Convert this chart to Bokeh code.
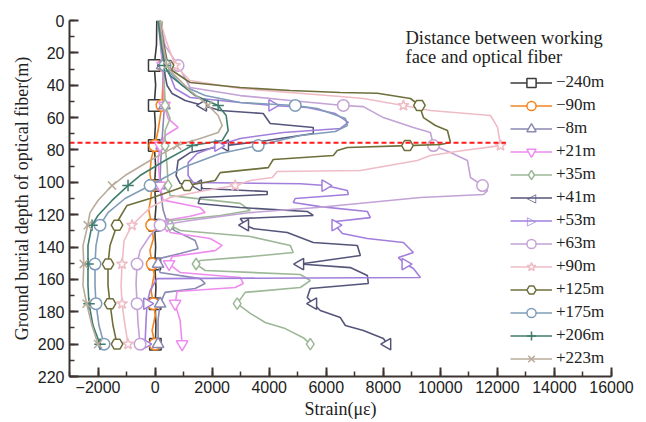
from bokeh.plotting import figure
from bokeh.models import Range1d, SingleIntervalTicker, Legend, LegendItem, Label
from bokeh.embed import file_html
from bokeh.resources import INLINE

# ---------------- data (strain in microstrain, depth in m) ----------------
labels = ["\u2212240m", "\u221290m", "\u22128m", "+21m", "+35m", "+41m", "+53m",
          "+63m", "+90m", "+125m", "+175m", "+206m", "+223m"]

marker_depth = [27.8, 52.5, 77.3, 102, 126.5, 150.5, 175, 200]

depth_m240 = [0, 15, 27.8, 40, 52.5, 65, 77.3, 90, 102, 115, 126.5, 140, 150.5, 165, 175, 188, 200]
strain_m240 = [60, 50, -30, 20, -30, 10, -30, 20, -20, 30, -20, 20, -10, 30, 0, 30, 10]
mk_m240 = [-30, -30, -30, -20, -20, -10, 0, 10]

depth_m90 = [0, 18.5, 27.8, 40, 52.5, 68, 77.3, 86, 95, 102, 110, 117, 126.5, 135, 142, 150.5, 157, 167, 175, 182, 191.6, 200]
strain_m90 = [176, 280, 290, 270, 240, 105, -10, -140, -180, -110, -150, -220, -120, -60, -180, -100, -30, -140, -60, 10, -105, 0]
mk_m90 = [290, 240, -10, -110, -120, -100, -60, 0]

depth_m8 = [0, 24.7, 27.8, 40, 52.5, 65, 77.3, 90, 102, 117, 126.5, 130, 136, 141, 144, 147, 150.5, 155.7, 159.5, 162.5, 165.6, 168, 175, 185, 200]
strain_m8 = [105, 246, 250, 300, 330, 280, 230, 190, 170, 281, 450, 700, 1404, 1509, 878, 176, 105, 176, 1580, 1755, 1404, 351, 176, 105, 105]
mk_m8 = [250, 330, 230, 170, 450, 105, 176, 105]

depth_p21 = [0, 24.7, 27.8, 49.4, 52.5, 60.6, 66.1, 71.1, 77.3, 86.5, 102, 111, 115.6, 118.7, 121, 123.6, 126.5, 131, 134.7, 139, 142.2, 145.9, 150.5, 155.7, 158.8, 162.5, 165, 167.5, 175, 185.4, 200]
strain_p21 = [176, 246, 260, 316, 330, 456, 807, 351, 176, 105, 176, 281, 1580, 1755, 1229, 351, 420, 527, 1931, 2352, 2106, 597, 491, 878, 2984, 3089, 2808, 772, 702, 878, 948]
mk_p21 = [260, 330, 176, 176, 420, 491, 702, 948]

depth_p35 = [0, 24.7, 27.8, 49.4, 52.5, 60.6, 68, 77.3, 89.6, 102, 108.2, 113, 117.4, 120.5, 123.6, 126.5, 129.8, 133.5, 139, 143.4, 145.9, 148.3, 150.5, 154.5, 157, 160.7, 165, 168, 175, 181, 186.6, 190.4, 196, 200]
strain_p35 = [246, 281, 290, 351, 351, 527, 351, 351, 421, 456, 527, 2984, 3335, 2282, 597, 527, 878, 3335, 4739, 4844, 3335, 1580, 1439, 1755, 5090, 5441, 5090, 3159, 2878, 3335, 3861, 4563, 5195, 5441]
mk_p35 = [290, 351, 351, 456, 527, 1439, 2878, 5441]

depth_p41 = [0, 18.5, 27.8, 34, 40.2, 45.1, 49.4, 52.5, 55.6, 57.5, 63.7, 66.1, 69.8, 74.2, 77.3, 81.6, 86.5, 95.8, 100.7, 102, 103.8, 105.7, 107.5, 109.4, 113.1, 115.6, 118, 120.5, 122.4, 126.5, 128.6, 131, 137.2, 139, 145.2, 150.5, 152.7, 157.6, 162.5, 165.6, 171.2, 175, 179.2, 183.6, 188.5, 191.6, 196.5, 200]
strain_p41 = [176, 281, 320, 351, 421, 597, 1053, 1685, 2282, 3791, 4037, 5546, 5546, 3931, 2457, 1229, 807, 737, 878, 1509, 1685, 3931, 3931, 1580, 1509, 2984, 5335, 5546, 2984, 3159, 3440, 4633, 5546, 7090, 7196, 5090, 6845, 7441, 7476, 5441, 5335, 5546, 5792, 6494, 6670, 7301, 8003, 8143]
mk_p41 = [320, 1685, 2457, 1509, 3159, 5090, 5546, 8143]

depth_p53 = [0, 18.5, 27.8, 30.9, 42, 47.6, 50.7, 52.5, 53.8, 57.5, 63, 66.7, 69.2, 72.9, 77.3, 82.2, 87.8, 95.8, 100.1, 100.9, 102, 105.1, 107.5, 110, 112.5, 115, 118, 121.8, 124.2, 126.5, 131.6, 134.7, 137.2, 143.4, 146.5, 150.5, 153.3, 158.8, 159.5, 166.9, 175, 185.4, 200]
strain_p53 = [176, 281, 400, 456, 702, 1229, 2984, 4107, 5335, 6318, 6775, 6494, 4493, 2984, 2211, 1474, 1158, 1158, 1334, 5090, 5967, 6739, 6775, 4914, 4844, 5792, 7441, 7546, 6318, 6318, 6564, 7441, 8705, 9056, 8529, 8775, 9056, 9302, 70, -176, -281, -316, -351]
mk_p53 = [400, 4107, 2211, 5967, 6318, 8775, -281, -351]

depth_p63 = [0, 15.5, 27.8, 41.4, 46.4, 49.4, 52.5, 53.2, 60, 66.1, 69.2, 77.3, 81.6, 86.5, 97, 102, 105.1, 107.5, 109.4, 115.6, 118.7, 123.6, 126.5, 132.9, 142.2, 150.5, 162.5, 175, 187.3, 200]
strain_p63 = [176, 351, 807, 1229, 2984, 4739, 6599, 7301, 8003, 9056, 9653, 9758, 10355, 10951, 11057, 11478, 11653, 11513, 9302, 5686, 3335, 1229, 176, -176, -527, -632, -667, -632, -597, -527]
mk_p63 = [807, 6599, 9758, 11478, 176, -632, -632, -527]

depth_p90 = [0, 12.4, 27.8, 37.1, 42, 47, 48.2, 52.5, 55.6, 58.7, 66.1, 77.3, 80.3, 83.4, 86.5, 92.7, 93.3, 97, 98.9, 102, 105.1, 109.4, 115.6, 126.5, 136, 150.5, 163.8, 175, 188.5, 200]
strain_p90 = [176, 386, 702, 1229, 2984, 6494, 7301, 8705, 9653, 11759, 12005, 12110, 10800, 9653, 9194, 7196, 4282, 4107, 3335, 2808, 1755, 527, -176, -807, -1088, -1158, -1193, -1158, -1053, -948]
mk_p90 = [702, 8705, 12110, 2808, -807, -1158, -1158, -948]

depth_p125 = [0, 12.4, 27.8, 30.9, 38.3, 41.4, 43.3, 44.5, 45, 48.2, 52.5, 60, 64.9, 68, 75.4, 76.6, 77.3, 78.5, 80.3, 83.4, 85.9, 90.9, 94, 98.9, 102, 106.3, 110, 114.3, 123.6, 126.5, 139.1, 150.5, 163.8, 175, 188.5, 200]
strain_p125 = [176, 281, 456, 597, 1229, 2984, 4739, 6494, 7792, 8951, 9267, 9407, 9828, 10249, 10355, 10004, 8845, 6739, 6388, 6248, 4142, 3966, 2282, 2106, 1123, 421, -176, -983, -1299, -1334, -1580, -1650, -1650, -1580, -1474, -1334]
mk_p125 = [456, 9267, 8845, 1123, -1334, -1650, -1580, -1334]

depth_p175 = [0, 18.5, 27.8, 30.9, 40.2, 46.4, 50.7, 52.5, 54.4, 60.6, 64.9, 68.6, 71.1, 77.3, 82.2, 90.9, 102, 110, 118.7, 126.5, 139.1, 150.5, 163.8, 175, 188.5, 200]
strain_p175 = [176, 246, 350, 456, 948, 1755, 2984, 4914, 5686, 6670, 6739, 6318, 5090, 3616, 2282, 983, -176, -1053, -1650, -1931, -2071, -2106, -2106, -2071, -1966, -1790]
mk_p175 = [350, 4914, 3616, -176, -1931, -2106, -2071, -1790]

depth_p206 = [0, 18.5, 27.8, 34, 46.4, 52.5, 58.7, 68, 74.2, 77.3, 86.5, 95.8, 102, 111.2, 120.5, 126.5, 139.1, 150.5, 163.8, 175, 188.5, 200]
strain_p206 = [105, 246, 330, 527, 1404, 2211, 2492, 2562, 2352, 1299, 351, -527, -948, -1509, -2001, -2211, -2352, -2352, -2352, -2317, -2176, -1931]
mk_p206 = [330, 2211, 1299, -948, -2211, -2352, -2317, -1931]

depth_p223 = [0, 15.5, 27.8, 30.9, 43.3, 52.5, 58.7, 64.9, 69.2, 72.9, 77.3, 86.5, 95.8, 102, 111.2, 118.7, 126.5, 139.1, 150.5, 163.8, 175, 188.5, 200]
strain_p223 = [176, 281, 420, 527, 1229, 1860, 2211, 2352, 2211, 1580, 772, -176, -1053, -1509, -2001, -2282, -2360, -2527, -2500, -2527, -2400, -2211, -2000]
mk_p223 = [420, 1860, 772, -1509, -2360, -2500, -2400, -2000]

ref_depth = [75.6, 75.6]
ref_strain = [-3000, 12300]

x_ticks_interval = 2000
y_ticks_interval = 20

# ---------------- styling ----------------
colors = ["#3a3a3a", "#f5841f", "#8a8ab2", "#ee8cef", "#9db897", "#55557a", "#a27fdc",
          "#c3a2d6", "#efbcc6", "#6f6f3c", "#7f9cb8", "#3f7d6c", "#b9ab9b"]
markers = ["square", "circle", "triangle", "inverted_triangle", "diamond", "triangle",
           "triangle", "circle", "star", "hex", "circle", "cross", "x"]
angles = [0, 0, 0, 0, 0, 1.5708, -1.5708, 0, 0, 0, 0, 0, 0]
# legend keys that need a sideways triangle (Bokeh legends do not rotate markers)
side_keys = {5: ("\u25c0", "\u25c1"), 6: ("\u25b6", "\u25b7")}

series = [
    (depth_m240, strain_m240, mk_m240), (depth_m90, strain_m90, mk_m90),
    (depth_m8, strain_m8, mk_m8), (depth_p21, strain_p21, mk_p21),
    (depth_p35, strain_p35, mk_p35), (depth_p41, strain_p41, mk_p41),
    (depth_p53, strain_p53, mk_p53), (depth_p63, strain_p63, mk_p63),
    (depth_p90, strain_p90, mk_p90), (depth_p125, strain_p125, mk_p125),
    (depth_p175, strain_p175, mk_p175), (depth_p206, strain_p206, mk_p206),
    (depth_p223, strain_p223, mk_p223),
]

X0, X1 = -3000, 16000
Y0, Y1 = 220, 0
FRAME_L, FRAME_T, FRAME_W, FRAME_H = 69, 20, 542, 356

p = figure(width=646, height=422, output_backend="svg", toolbar_location=None,
           x_range=Range1d(X0, X1), y_range=Range1d(Y0, Y1),
           min_border_left=FRAME_L, min_border_right=646 - FRAME_L - FRAME_W,
           min_border_top=FRAME_T, min_border_bottom=422 - FRAME_T - FRAME_H)
p.outline_line_color = None
p.xgrid.visible = False
p.ygrid.visible = False
p.background_fill_color = "white"

p.xaxis.ticker = SingleIntervalTicker(interval=x_ticks_interval, num_minor_ticks=2)
p.yaxis.ticker = SingleIntervalTicker(interval=y_ticks_interval, num_minor_ticks=2)

for ax in (p.xaxis[0], p.yaxis[0]):
    ax.axis_line_color = "#3d3431"
    ax.axis_line_width = 2
    ax.major_tick_line_color = "#3d3431"
    ax.minor_tick_line_color = "#3d3431"
    ax.major_tick_line_width = 2
    ax.minor_tick_line_width = 1.5
    ax.major_tick_in = 9
    ax.major_tick_out = 0
    ax.minor_tick_in = 5
    ax.minor_tick_out = 0
    ax.major_label_text_font = "Liberation Sans"
    ax.major_label_text_font_size = "16px"
    ax.major_label_text_color = "#222222"
    ax.major_label_standoff = 5
    ax.axis_label_text_font = "Liberation Serif"
    ax.axis_label_text_font_size = "18px"
    ax.axis_label_text_font_style = "normal"
    ax.axis_label_text_color = "#222222"

p.xaxis.axis_label = "Strain(\u03bc\u03b5)"
p.yaxis.axis_label = "Ground burial depth of optical fiber(m)"
p.xaxis.major_label_standoff = 4
p.xaxis.axis_label_standoff = 3
p.yaxis.axis_label_standoff = 3

items = []
for i, (d, s, mk) in enumerate(series):
    lr = p.line(s, d, line_color=colors[i], line_width=1.6)
    sr = p.scatter(mk, marker_depth, marker=markers[i], size=11.5, angle=angles[i],
                   line_color=colors[i], fill_color="white", line_width=1.5)
    rends = [lr] if i in side_keys else [lr, sr]
    items.append(LegendItem(label=labels[i], renderers=rends))

p.line(ref_strain, ref_depth, line_color="#ff1a1a", line_width=2, line_dash="5 3")

# legend layout (screen pixels)
LEG_X, LEG_TOP, ITEM_H, GLYPH_W = 510, 70.5, 23, 42
legend = Legend(items=items,
                location=(LEG_X - FRAME_L, FRAME_T + FRAME_H - (LEG_TOP + ITEM_H * len(labels))),
                orientation="vertical",
                glyph_width=GLYPH_W, glyph_height=ITEM_H, label_height=ITEM_H, spacing=0,
                padding=0, margin=0, border_line_color=None, background_fill_alpha=0,
                label_standoff=4, label_text_font="Liberation Serif",
                label_text_font_size="17px", label_text_color="#222222")
p.add_layout(legend)

def px_to_data(xp, yp):
    return (X0 + (xp - FRAME_L) / FRAME_W * (X1 - X0),
            Y1 + (yp - FRAME_T) / FRAME_H * (Y0 - Y1))

for i, (fill_ch, outline_ch) in side_keys.items():
    kx, ky = px_to_data(LEG_X + GLYPH_W / 2, LEG_TOP + ITEM_H * (i + 0.5))
    for ch, col in ((fill_ch, "white"), (outline_ch, colors[i])):
        p.add_layout(Label(x=kx, y=ky, text=ch, text_font="DejaVu Sans", text_font_size="12px",
                           text_color=col, text_align="center", text_baseline="middle"))

tx, ty1 = px_to_data(405, 37)
_, ty2 = px_to_data(405, 56)
for txt, ty in (("Distance between working", ty1), ("face and optical fiber", ty2)):
    p.add_layout(Label(x=tx, y=ty, text=txt, text_font="Liberation Serif",
                       text_font_size="18.5px", text_color="#222222", text_baseline="middle"))

open("out.html", "w").write(file_html(p, INLINE))
